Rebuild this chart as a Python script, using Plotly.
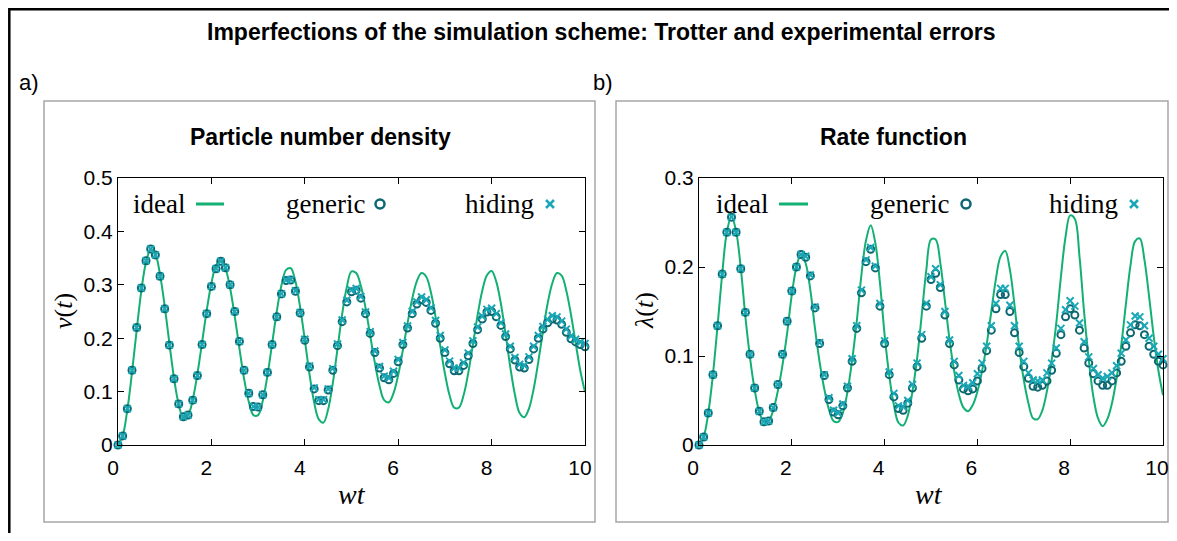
import plotly.graph_objects as go

# ---------------- data ----------------
t = [0.0, 0.1, 0.2, 0.3, 0.4, 0.5, 0.6, 0.7, 0.8, 0.9,
     1.0, 1.1, 1.2, 1.3, 1.4, 1.5, 1.6, 1.7, 1.8, 1.9,
     2.0, 2.1, 2.2, 2.3, 2.4, 2.5, 2.6, 2.7, 2.8, 2.9,
     3.0, 3.1, 3.2, 3.3, 3.4, 3.5, 3.6, 3.7, 3.8, 3.9,
     4.0, 4.1, 4.2, 4.3, 4.4, 4.5, 4.6, 4.7, 4.8, 4.9,
     5.0, 5.1, 5.2, 5.3, 5.4, 5.5, 5.6, 5.7, 5.8, 5.9,
     6.0, 6.1, 6.2, 6.3, 6.4, 6.5, 6.6, 6.7, 6.8, 6.9,
     7.0, 7.1, 7.2, 7.3, 7.4, 7.5, 7.6, 7.7, 7.8, 7.9,
     8.0, 8.1, 8.2, 8.3, 8.4, 8.5, 8.6, 8.7, 8.8, 8.9,
     9.0, 9.1, 9.2, 9.3, 9.4, 9.5, 9.6, 9.7, 9.8, 9.9, 10.0]

# a) particle number density
ideal_a = [0.000, 0.017, 0.066, 0.136, 0.215, 0.289, 0.342, 0.366, 0.357, 0.319,
           0.260, 0.191, 0.125, 0.076, 0.051, 0.056, 0.085, 0.133, 0.192, 0.252,
           0.303, 0.336, 0.346, 0.331, 0.294, 0.241, 0.181, 0.124, 0.081, 0.056,
           0.056, 0.083, 0.130, 0.190, 0.250, 0.299, 0.328, 0.331, 0.306, 0.258,
           0.197, 0.133, 0.080, 0.048, 0.042, 0.067, 0.116, 0.180, 0.245, 0.296,
           0.325, 0.322, 0.298, 0.257, 0.205, 0.154, 0.111, 0.084, 0.080, 0.097,
           0.131, 0.178, 0.228, 0.274, 0.307, 0.322, 0.315, 0.286, 0.240, 0.186,
           0.134, 0.093, 0.070, 0.070, 0.093, 0.135, 0.188, 0.243, 0.289, 0.318,
           0.326, 0.306, 0.264, 0.207, 0.146, 0.094, 0.060, 0.052, 0.068, 0.105,
           0.156, 0.213, 0.265, 0.303, 0.322, 0.317, 0.289, 0.244, 0.191, 0.139, 0.099]
generic_a = [0.000, 0.017, 0.068, 0.140, 0.220, 0.294, 0.345, 0.367, 0.356, 0.316,
             0.255, 0.187, 0.124, 0.077, 0.053, 0.056, 0.084, 0.130, 0.188, 0.246,
             0.297, 0.330, 0.344, 0.332, 0.300, 0.250, 0.194, 0.140, 0.097, 0.072,
             0.071, 0.094, 0.136, 0.188, 0.240, 0.283, 0.308, 0.309, 0.288, 0.247,
             0.196, 0.146, 0.105, 0.083, 0.083, 0.103, 0.140, 0.186, 0.231, 0.268,
             0.287, 0.290, 0.275, 0.246, 0.209, 0.173, 0.144, 0.126, 0.122, 0.134,
             0.156, 0.188, 0.219, 0.246, 0.264, 0.272, 0.267, 0.252, 0.228, 0.200,
             0.173, 0.152, 0.139, 0.139, 0.149, 0.167, 0.190, 0.216, 0.236, 0.249,
             0.250, 0.240, 0.224, 0.203, 0.180, 0.159, 0.146, 0.144, 0.160, 0.180,
             0.200, 0.217, 0.229, 0.236, 0.234, 0.226, 0.211, 0.199, 0.193, 0.188, 0.184]
hiding_a = [0.000, 0.017, 0.068, 0.140, 0.220, 0.294, 0.345, 0.367, 0.356, 0.316,
            0.255, 0.187, 0.124, 0.077, 0.053, 0.056, 0.084, 0.130, 0.188, 0.246,
            0.297, 0.330, 0.344, 0.332, 0.300, 0.250, 0.194, 0.140, 0.097, 0.072,
            0.071, 0.094, 0.136, 0.188, 0.240, 0.283, 0.309, 0.310, 0.289, 0.248,
            0.198, 0.148, 0.107, 0.085, 0.085, 0.105, 0.143, 0.189, 0.234, 0.271,
            0.290, 0.293, 0.278, 0.249, 0.212, 0.176, 0.147, 0.129, 0.126, 0.138,
            0.160, 0.192, 0.223, 0.250, 0.268, 0.277, 0.272, 0.257, 0.233, 0.205,
            0.178, 0.157, 0.144, 0.144, 0.154, 0.172, 0.195, 0.221, 0.241, 0.254,
            0.256, 0.246, 0.229, 0.208, 0.185, 0.164, 0.151, 0.149, 0.165, 0.185,
            0.205, 0.222, 0.235, 0.242, 0.240, 0.232, 0.217, 0.204, 0.198, 0.193, 0.190]

# b) rate function
ideal_b = [0.000, 0.009, 0.036, 0.079, 0.134, 0.192, 0.239, 0.257, 0.240, 0.199,
           0.144, 0.098, 0.062, 0.037, 0.026, 0.027, 0.039, 0.061, 0.090, 0.126,
           0.169, 0.200, 0.215, 0.204, 0.174, 0.131, 0.093, 0.063, 0.040, 0.027,
           0.026, 0.036, 0.060, 0.095, 0.139, 0.191, 0.230, 0.247, 0.227, 0.182,
           0.124, 0.078, 0.045, 0.025, 0.022, 0.033, 0.060, 0.097, 0.146, 0.197,
           0.231, 0.231, 0.205, 0.162, 0.118, 0.083, 0.057, 0.042, 0.038, 0.045,
           0.060, 0.083, 0.113, 0.150, 0.187, 0.212, 0.218, 0.197, 0.157, 0.110,
           0.073, 0.047, 0.030, 0.029, 0.039, 0.061, 0.095, 0.137, 0.189, 0.234,
           0.258, 0.254, 0.212, 0.149, 0.096, 0.054, 0.030, 0.021, 0.029, 0.047,
           0.075, 0.112, 0.158, 0.202, 0.229, 0.232, 0.208, 0.167, 0.122, 0.084, 0.056]
generic_b = [0.000, 0.009, 0.036, 0.079, 0.134, 0.192, 0.239, 0.256, 0.239, 0.198,
             0.149, 0.102, 0.064, 0.038, 0.026, 0.027, 0.042, 0.068, 0.102, 0.139,
             0.173, 0.200, 0.214, 0.211, 0.190, 0.154, 0.114, 0.078, 0.051, 0.037,
             0.034, 0.044, 0.064, 0.094, 0.131, 0.171, 0.206, 0.220, 0.199, 0.156,
             0.114, 0.079, 0.054, 0.041, 0.039, 0.047, 0.064, 0.088, 0.120, 0.156,
             0.186, 0.193, 0.177, 0.146, 0.114, 0.090, 0.073, 0.063, 0.061, 0.063,
             0.072, 0.086, 0.106, 0.129, 0.153, 0.169, 0.169, 0.150, 0.126, 0.104,
             0.088, 0.075, 0.066, 0.065, 0.067, 0.072, 0.084, 0.103, 0.124, 0.144,
             0.153, 0.146, 0.129, 0.109, 0.092, 0.080, 0.072, 0.067, 0.067, 0.072,
             0.081, 0.094, 0.111, 0.126, 0.135, 0.134, 0.124, 0.111, 0.102, 0.094, 0.090]
hiding_b = [0.000, 0.009, 0.036, 0.079, 0.134, 0.192, 0.239, 0.256, 0.239, 0.198,
            0.149, 0.102, 0.064, 0.038, 0.026, 0.027, 0.042, 0.068, 0.102, 0.139,
            0.173, 0.200, 0.214, 0.212, 0.191, 0.155, 0.115, 0.079, 0.053, 0.039,
            0.036, 0.046, 0.066, 0.097, 0.134, 0.174, 0.208, 0.222, 0.201, 0.159,
            0.117, 0.082, 0.058, 0.044, 0.043, 0.050, 0.068, 0.092, 0.124, 0.159,
            0.189, 0.198, 0.180, 0.150, 0.118, 0.094, 0.078, 0.067, 0.066, 0.070,
            0.080, 0.092, 0.111, 0.134, 0.159, 0.176, 0.176, 0.157, 0.134, 0.111,
            0.094, 0.081, 0.073, 0.072, 0.073, 0.081, 0.092, 0.109, 0.131, 0.152,
            0.162, 0.156, 0.137, 0.116, 0.099, 0.086, 0.079, 0.075, 0.077, 0.081,
            0.089, 0.103, 0.118, 0.135, 0.145, 0.144, 0.134, 0.120, 0.111, 0.102, 0.097]

x_ticks = [0, 2, 4, 6, 8, 10]
ya_ticks = [0, 0.1, 0.2, 0.3, 0.4, 0.5]
yb_ticks = [0, 0.1, 0.2, 0.3]
series_names = ["ideal", "generic", "hiding"]

# ---------------- style ----------------
# the page body has an 8px margin, so the figure starts at page pixel (8, 8);
# keep the figure inside the margins so that the page never overflows
OFF = 8
W, H = 1177 - 2 * OFF, 541 - 2 * OFF
C_IDEAL = "#13b074"
C_GEN = "#0c6770"
C_HID = "#1aa8b6"
SANS = "Liberation Sans, Arial, sans-serif"
SERIF = "Liberation Serif, Times New Roman, serif"


def px(x):
    """page pixel x -> paper fraction"""
    return (x - OFF) / W


def py(y):
    """page pixel y -> paper fraction"""
    return 1 - (y - OFF) / H


fig = go.Figure()

panels = [("x", "y", ideal_a, generic_a, hiding_a),
          ("x2", "y2", ideal_b, generic_b, hiding_b)]
for xa, ya, ide, gen, hid in panels:
    fig.add_trace(go.Scatter(x=t, y=ide, mode="lines", name=series_names[0],
                             line=dict(color=C_IDEAL, width=2, shape="spline", smoothing=1.0),
                             xaxis=xa, yaxis=ya, showlegend=False))
    fig.add_trace(go.Scatter(x=t, y=gen, mode="markers", name=series_names[1],
                             marker=dict(symbol="circle-open", size=7, color=C_GEN,
                                         line=dict(width=2, color=C_GEN)),
                             cliponaxis=False, xaxis=xa, yaxis=ya, showlegend=False))
    fig.add_trace(go.Scatter(x=t, y=hid, mode="markers", name=series_names[2],
                             marker=dict(symbol="x-thin-open", size=7, color=C_HID,
                                         line=dict(width=2, color=C_HID)),
                             cliponaxis=False, xaxis=xa, yaxis=ya, showlegend=False))

axis_common = dict(showline=True, linecolor="black", linewidth=1, mirror="allticks",
                   ticks="inside", ticklen=6, tickcolor="black", tickwidth=1,
                   showgrid=False, zeroline=False, automargin=False,
                   tickfont=dict(family=SANS, size=21, color="black"))

ydom = [py(445), py(178)]
fig.update_layout(
    width=W, height=H,
    margin=dict(l=0, r=0, t=0, b=0),
    paper_bgcolor="white", plot_bgcolor="white",
    showlegend=False,
    xaxis=dict(domain=[px(118), px(585)], range=[0, 10], tickvals=x_ticks,
               anchor="y", ticklabelstandoff=4, ticklabelshift=-5, **axis_common),
    yaxis=dict(domain=ydom, range=[0, 0.5], tickvals=ya_ticks,
               anchor="x", **axis_common),
    xaxis2=dict(domain=[px(699), px(1163)], range=[0, 10], tickvals=x_ticks,
                anchor="y2", ticklabelstandoff=4, ticklabelshift=-6, **axis_common),
    yaxis2=dict(domain=ydom, range=[0, 0.3], tickvals=yb_ticks,
                anchor="x2", **axis_common),
)

shapes = []
# outer black frame (runs off the right and bottom edges)
shapes.append(dict(type="rect", xref="paper", yref="paper",
                   x0=px(9.3), x1=px(1190), y0=py(560), y1=py(9.3),
                   line=dict(color="black", width=2.5), fillcolor="rgba(0,0,0,0)", layer="below"))
# grey panel boxes
for x0, x1 in [(44, 595), (616, 1168)]:
    shapes.append(dict(type="rect", xref="paper", yref="paper",
                       x0=px(x0), x1=px(x1), y0=py(522), y1=py(101),
                       line=dict(color="#a6a6a6", width=1.5), fillcolor="rgba(0,0,0,0)", layer="below"))

annotations = []
# global title and panel letters
annotations.append(dict(text="<b>Imperfections of the simulation scheme: Trotter and experimental errors</b>",
                        x=px(601), y=py(32), xref="paper", yref="paper", showarrow=False,
                        xanchor="center", yanchor="middle",
                        font=dict(family=SANS, size=23, color="black")))
annotations.append(dict(text="a)", x=px(17), y=py(82), xref="paper", yref="paper", showarrow=False,
                        xanchor="left", yanchor="middle", font=dict(family=SANS, size=22, color="black")))
annotations.append(dict(text="b)", x=px(591), y=py(82), xref="paper", yref="paper", showarrow=False,
                        xanchor="left", yanchor="middle", font=dict(family=SANS, size=22, color="black")))

# legend-like keys (text followed by symbol)
legend_pos = [
    # ideal text x, line x0, x1, generic text right, circle x, hiding text right, cross x
    (131, 196, 224, 367, 380, 536, 550),
    (714, 779, 808, 951, 966, 1120, 1134),
]
titles = ["<b>Particle number density</b>", "<b>Rate function</b>"]
title_x = [320, 893]
ylabels = ["<i>ν</i>(<i>t</i>)", "<i>λ</i>(<i>t</i>)"]
ylabel_x = [63, 644]
xlabel_x = [352, 929]
ly = 204
for i, (ix, l0, l1, gx, cx, hx, xx) in enumerate(legend_pos):
    annotations.append(dict(text=titles[i], x=px(title_x[i]), y=py(137), xref="paper", yref="paper",
                            showarrow=False, xanchor="center", yanchor="middle",
                            font=dict(family=SANS, size=23, color="black")))
    annotations.append(dict(text=ylabels[i], x=px(ylabel_x[i]), y=py(311), xref="paper", yref="paper",
                            showarrow=False, textangle=-90, xanchor="center", yanchor="middle",
                            font=dict(family=SERIF, size=26, color="black")))
    annotations.append(dict(text="<i>wt</i>", x=px(xlabel_x[i]), y=py(494), xref="paper", yref="paper",
                            showarrow=False, xanchor="center", yanchor="middle",
                            font=dict(family=SERIF, size=28, color="black")))
    annotations.append(dict(text=series_names[0], x=px(ix), y=py(ly), xref="paper", yref="paper",
                            showarrow=False, xanchor="left", yanchor="middle",
                            font=dict(family=SERIF, size=27, color="black")))
    annotations.append(dict(text=series_names[1], x=px(gx), y=py(ly), xref="paper", yref="paper",
                            showarrow=False, xanchor="right", yanchor="middle",
                            font=dict(family=SERIF, size=27, color="black")))
    annotations.append(dict(text=series_names[2], x=px(hx), y=py(ly), xref="paper", yref="paper",
                            showarrow=False, xanchor="right", yanchor="middle",
                            font=dict(family=SERIF, size=27, color="black")))
    shapes.append(dict(type="line", xref="paper", yref="paper", x0=px(l0), x1=px(l1),
                       y0=py(ly), y1=py(ly), line=dict(color=C_IDEAL, width=3)))
    shapes.append(dict(type="circle", xref="paper", yref="paper", x0=px(cx - 4.5), x1=px(cx + 4.5),
                       y0=py(ly + 4.5), y1=py(ly - 4.5), line=dict(color=C_GEN, width=2.5)))
    shapes.append(dict(type="line", xref="paper", yref="paper", x0=px(xx - 4), x1=px(xx + 4),
                       y0=py(ly - 4), y1=py(ly + 4), line=dict(color=C_HID, width=2.5)))
    shapes.append(dict(type="line", xref="paper", yref="paper", x0=px(xx - 4), x1=px(xx + 4),
                       y0=py(ly + 4), y1=py(ly - 4), line=dict(color=C_HID, width=2.5)))

fig.update_layout(shapes=shapes, annotations=annotations)
fig.write_html("out.html")
